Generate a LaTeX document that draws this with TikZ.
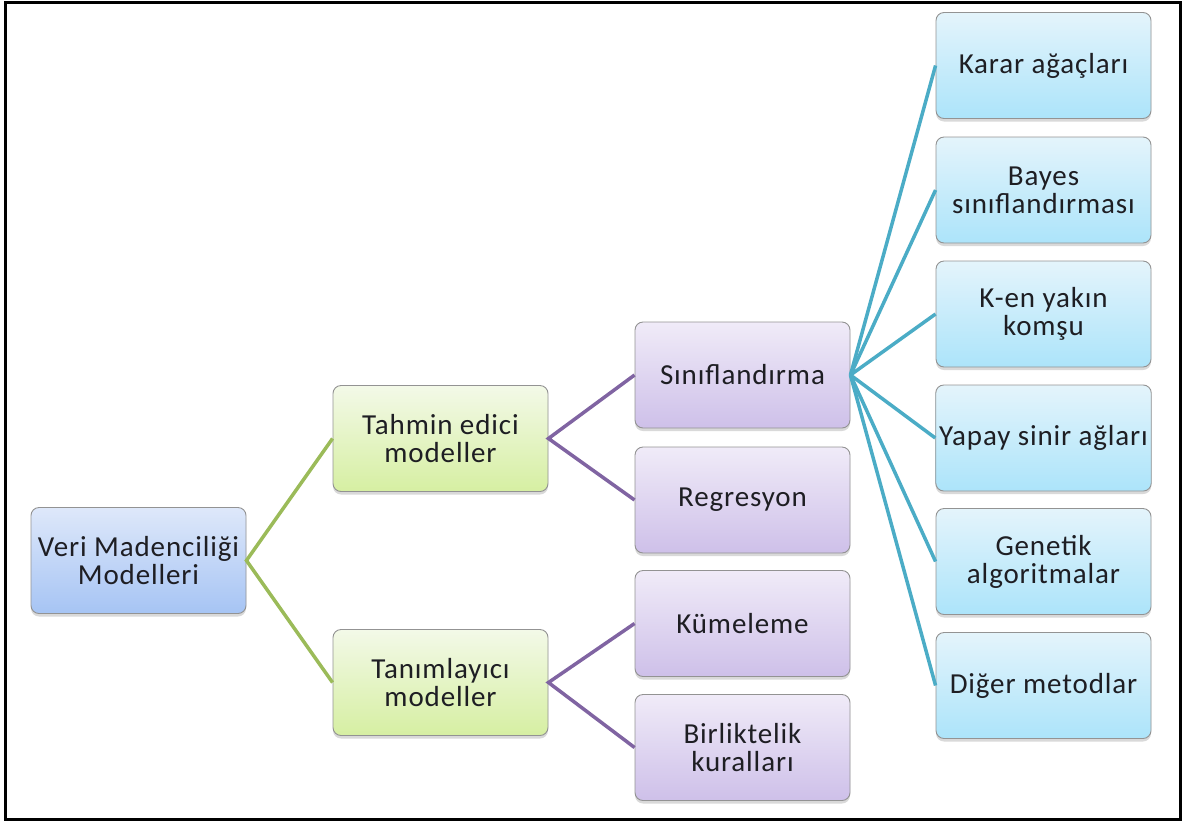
\documentclass[tikz,border=0pt]{standalone}
\usepackage{fontspec}
\setmainfont{Carlito}[LetterSpace=3]
\usepackage{tikz}
\usetikzlibrary{shadows}

\definecolor{lineGreen}{RGB}{155,187,89}
\definecolor{linePurple}{RGB}{128,100,162}
\definecolor{lineBlue}{RGB}{75,172,198}
\definecolor{rootTop}{RGB}{222,232,250}
\definecolor{rootBot}{RGB}{166,196,244}
\definecolor{greenTop}{RGB}{243,249,232}
\definecolor{greenBot}{RGB}{214,239,162}
\definecolor{purpleTop}{RGB}{240,235,248}
\definecolor{purpleBot}{RGB}{206,192,233}
\definecolor{blueTop}{RGB}{228,244,251}
\definecolor{blueBot}{RGB}{172,228,250}
\definecolor{textDark}{RGB}{30,30,35}

\tikzset{
  box/.style={draw=gray!85, line width=0.9pt, rounded corners=8pt,
    minimum width=215pt, minimum height=106pt, align=center,
    text=textDark, font=\fontsize{29}{28}\selectfont,
    drop shadow={shadow xshift=0pt, shadow yshift=-3pt, opacity=0.3}},
  rootbox/.style={box, top color=rootTop, bottom color=rootBot},
  greenbox/.style={box, top color=greenTop, bottom color=greenBot},
  purplebox/.style={box, top color=purpleTop, bottom color=purpleBot},
  bluebox/.style={box, top color=blueTop, bottom color=blueBot},
  link/.style={line width=3.5pt}
}

\begin{document}
\begin{tikzpicture}[x=1pt, y=-1pt]
    \useasboundingbox (0,0) rectangle (1187,823);

    % Frame
    \draw[line width=3pt] (5,2) rectangle (1180,819);

    % Boxes
    \node[rootbox] (root) at (138.5,560.5) {Veri Madenciliği\\Modelleri};

    \node[greenbox] (tahmin) at (440.5,438.5) {Tahmin edici\\modeller};
    \node[greenbox] (tanim) at (440.5,682.5) {Tanımlayıcı\\modeller};

    \node[purplebox] (sinif) at (742.5,375) {Sınıflandırma};
    \node[purplebox] (regr) at (742.5,500) {Regresyon};
    \node[purplebox] (kume) at (742.5,623.5) {Kümeleme};
    \node[purplebox] (birlik) at (742.5,747.5) {Birliktelik\\kuralları};

    \node[bluebox] (karar) at (1043.5,65.5) {Karar ağaçları};
    \node[bluebox] (bayes) at (1043.5,190) {Bayes\\sınıflandırması};
    \node[bluebox] (ken) at (1043.5,314) {K-en yakın\\komşu};
    \node[bluebox] (yapay) at (1043.5,438) {Yapay sinir ağları};
    \node[bluebox] (genetik) at (1043.5,561.5) {Genetik\\algoritmalar};
    \node[bluebox] (diger) at (1043.5,685.5) {Diğer metodlar};

    % Links
    \draw[link, lineGreen] (tahmin.west) -- (root.east) -- (tanim.west);
    \draw[link, linePurple] (sinif.west) -- (tahmin.east) -- (regr.west);
    \draw[link, linePurple] (kume.west) -- (tanim.east) -- (birlik.west);
    \foreach \leaf in {karar,bayes,ken,yapay,genetik,diger}
        \draw[link, lineBlue] (sinif.east) -- (\leaf.west);
\end{tikzpicture}
\end{document}
